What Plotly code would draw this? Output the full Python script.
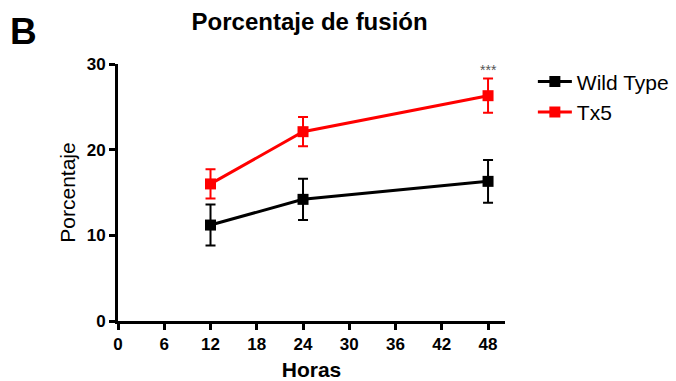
import plotly.graph_objects as go

horas = [12, 24, 48]
wt_mean = [11.2, 14.2, 16.3]
wt_err = [2.4, 2.4, 2.5]
tx5_mean = [16.0, 22.1, 26.3]
tx5_err = [1.7, 1.7, 2.0]
x_ticks = [0, 6, 12, 18, 24, 30, 36, 42, 48]
y_ticks = [0, 10, 20, 30]

FONT = "Liberation Sans, Arial, sans-serif"

fig = go.Figure()
fig.add_trace(go.Scatter(
    x=horas, y=wt_mean, name="Wild Type", mode="lines+markers",
    line=dict(color="black", width=3),
    marker=dict(symbol="square", size=11, color="black"),
    error_y=dict(type="data", array=wt_err, visible=True, color="black", thickness=2, width=5),
))
fig.add_trace(go.Scatter(
    x=horas, y=tx5_mean, name="Tx5", mode="lines+markers",
    line=dict(color="#ff0000", width=3),
    marker=dict(symbol="square", size=11, color="#ff0000"),
    error_y=dict(type="data", array=tx5_err, visible=True, color="#ff0000", thickness=2, width=5),
))

fig.add_annotation(x=48, y=tx5_mean[2] + tx5_err[2], text="***", showarrow=False,
                   yshift=9, font=dict(family=FONT, size=14, color="#555555"))
fig.add_annotation(xref="paper", yref="paper", x=-0.244, y=1.126, xanchor="center", yanchor="middle",
                   text="<b>B</b>", showarrow=False,
                   font=dict(family=FONT, size=37, color="black"))

fig.update_layout(
    width=676, height=381,
    margin=dict(l=118, r=171, t=64, b=60, autoexpand=False),
    paper_bgcolor="white", plot_bgcolor="white",
    title=dict(text="<b>Porcentaje de fusión</b>", x=0.458, xanchor="center", y=0.942, yanchor="middle",
               font=dict(family=FONT, size=24, color="black")),
    font=dict(family=FONT, color="black"),
    showlegend=True,
    legend=dict(x=1.072, y=1.01, xanchor="left", yanchor="top", font=dict(family=FONT, size=21, color="black"),
                bgcolor="rgba(0,0,0,0)", itemwidth=34, tracegroupgap=2),
    xaxis=dict(range=[0, 50.2], tickvals=x_ticks, ticktext=["<b>%d</b>" % v for v in x_ticks],
               showgrid=False, zeroline=False, showline=True, linecolor="black", linewidth=3,
               ticks="outside", ticklen=6, tickwidth=2.5, tickcolor="black", automargin=False,
               tickfont=dict(family=FONT, size=17, color="black"),
               title=dict(text="<b>Horas</b>", font=dict(family=FONT, size=21, color="black"), standoff=10)),
    yaxis=dict(range=[0, 30], tickvals=y_ticks, ticktext=["<b>%d</b>" % v for v in y_ticks],
               showgrid=False, zeroline=False, showline=True, linecolor="black", linewidth=3,
               ticks="outside", ticklen=6, tickwidth=2.5, tickcolor="black", automargin=False,
               tickfont=dict(family=FONT, size=17, color="black"),
               title=dict(text="Porcentaje", font=dict(family=FONT, size=21, color="black"), standoff=6)),
)

fig.write_html("out.html")
